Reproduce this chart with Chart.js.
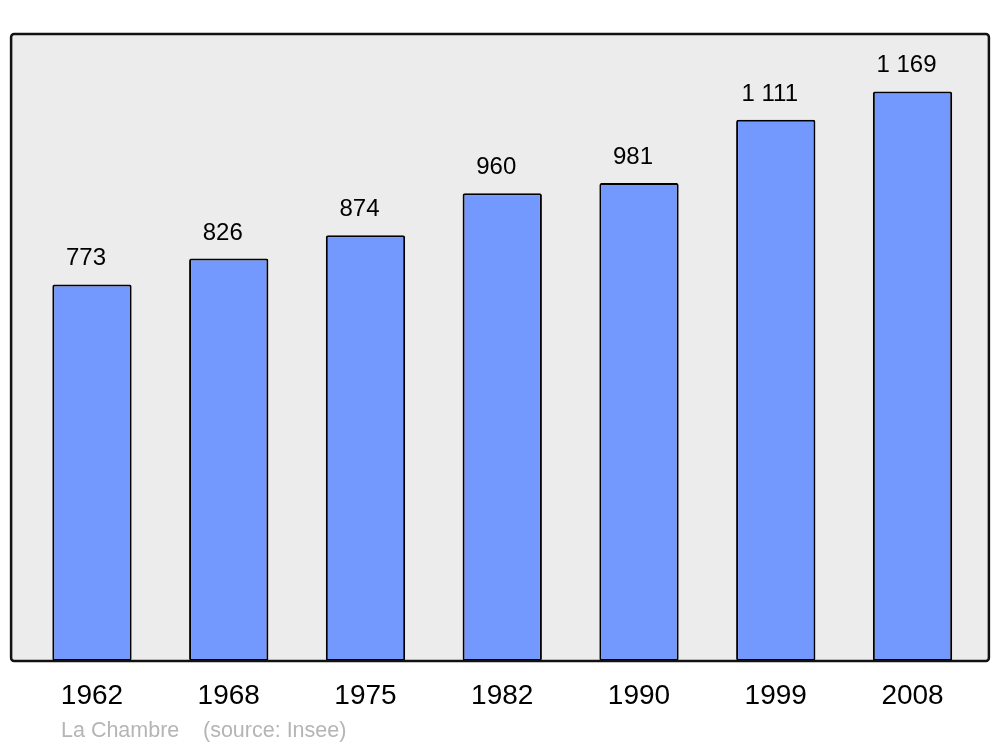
<!DOCTYPE html>
<html>
    <head>
        <meta charset="utf-8">
        <title>La Chambre - population</title>
        <style>
            body { margin: 0; background: #ffffff; }
        </style>
    </head>
    <body>
        <canvas id="population" width="1000" height="747"></canvas>

        <script src="https://cdn.jsdelivr.net/npm/chart.js"></script>
        <script>
            // Données
            const years = ['1962', '1968', '1975', '1982', '1990', '1999', '2008'];
            const population = [773, 826, 874, 960, 981, 1111, 1169];
            const yMax = 1287;

            const caption = 'La Chambre';
            const source = '(source: Insee)';

            function formatNumber(n) {
                return String(n).replace(/\B(?=(\d{3})+(?!\d))/g, ' ');
            }

            Chart.defaults.font.family = '"Liberation Sans", Arial, sans-serif';
            Chart.defaults.color = '#000000';

            // Cadre gris, étiquettes des valeurs et légende du bas
            const framePlugin = {
                id: 'frame',
                beforeDatasetsDraw(chart) {
                    const a = chart.chartArea;
                    const c = chart.ctx;
                    c.save();
                    c.beginPath();
                    c.roundRect(a.left - 12.5, a.top, a.width + 20.5, a.height, 3);
                    c.fillStyle = '#ececec';
                    c.fill();
                    c.restore();
                },
                afterDatasetsDraw(chart) {
                    const a = chart.chartArea;
                    const c = chart.ctx;
                    c.save();
                    c.beginPath();
                    c.roundRect(a.left - 12.5, a.top, a.width + 20.5, a.height, 3);
                    c.lineWidth = 2.5;
                    c.strokeStyle = '#111111';
                    c.stroke();

                    c.font = '24px "Liberation Sans", Arial, sans-serif';
                    c.fillStyle = '#000000';
                    c.textAlign = 'center';
                    c.textBaseline = 'alphabetic';
                    chart.getDatasetMeta(0).data.forEach((bar, i) => {
                        c.fillText(formatNumber(population[i]), bar.x - 6, bar.y - 19);
                    });

                    c.font = '21.5px "Liberation Sans", Arial, sans-serif';
                    c.fillStyle = '#b5b5b5';
                    c.textAlign = 'left';
                    c.fillText(caption, 61, 737);
                    c.fillText(source, 203, 737);
                    c.restore();
                }
            };

            const ctx = document.querySelector('#population').getContext('2d');
            const chart = new Chart(ctx, {
                type: 'bar',
                data: {
                    labels: years,
                    datasets: [{
                        data: population,
                        backgroundColor: '#7399ff',
                        borderColor: '#000000',
                        borderWidth: 2,
                        borderRadius: 2,
                        borderSkipped: false,
                        categoryPercentage: 1,
                        barPercentage: 0.58
                    }]
                },
                options: {
                    responsive: false,
                    animation: false,
                    layout: {
                        padding: { left: 23.6, right: 19.1, top: 34, bottom: 16.4 }
                    },
                    plugins: {
                        legend: { display: false },
                        tooltip: { enabled: false }
                    },
                    scales: {
                        x: {
                            grid: { display: false, drawTicks: false },
                            border: { display: false },
                            ticks: {
                                padding: 18,
                                color: '#000000',
                                font: { size: 28 }
                            }
                        },
                        y: {
                            display: false,
                            min: 0,
                            max: yMax
                        }
                    }
                },
                plugins: [framePlugin]
            });
        </script>
    </body>
</html>
